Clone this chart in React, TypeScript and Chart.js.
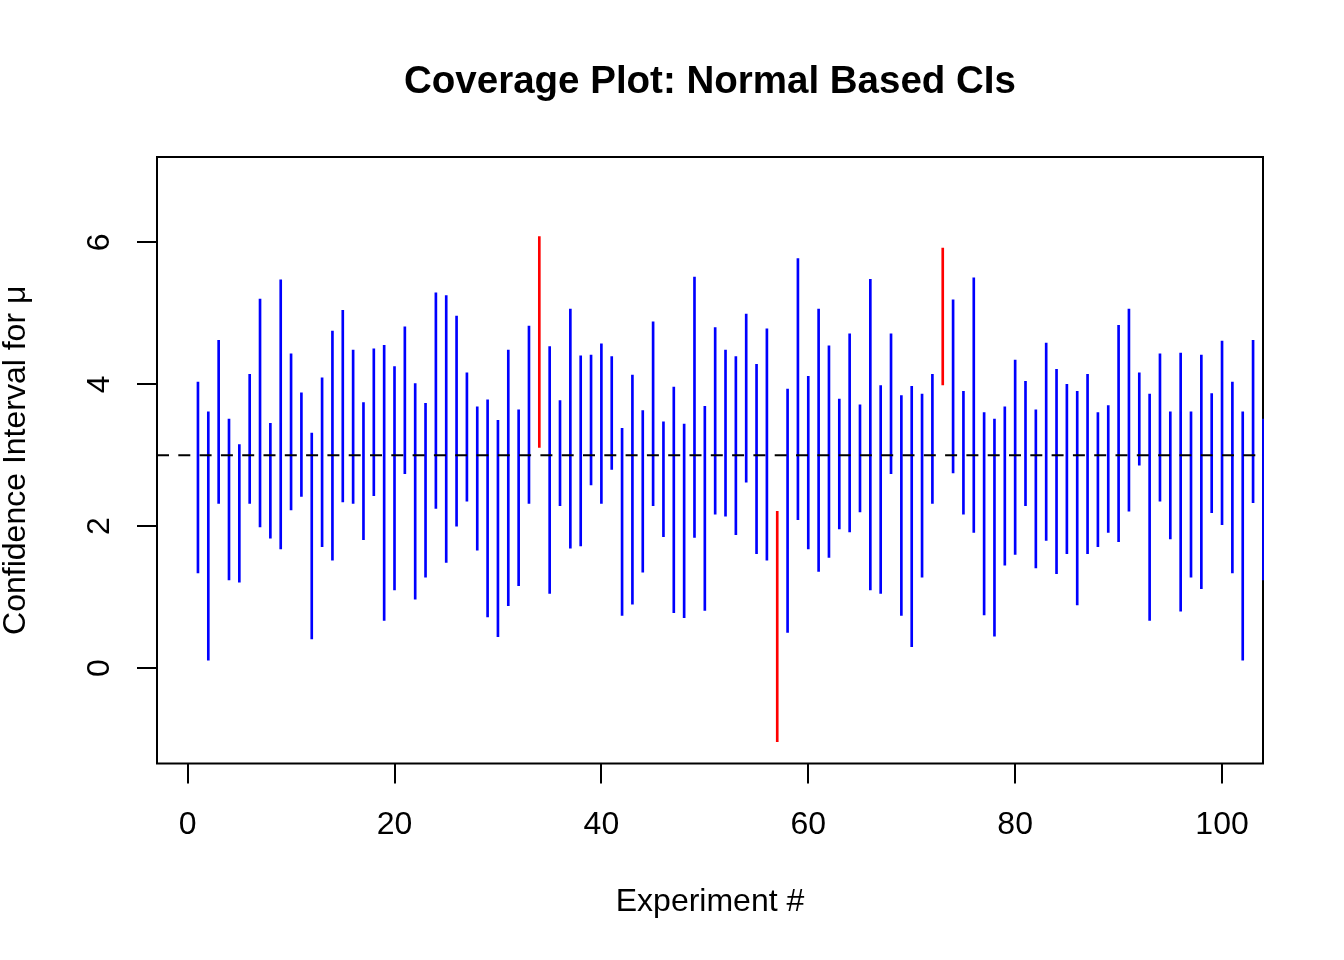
import { useEffect, useRef } from "react";
import { Chart, registerables } from "chart.js";

Chart.register(...registerables);

// Experiment numbers (x categories)
const experiments = [
  1, 2, 3, 4, 5, 6, 7, 8, 9, 10, 11, 12, 13, 14, 15, 16, 17, 18, 19, 20,
  21, 22, 23, 24, 25, 26, 27, 28, 29, 30, 31, 32, 33, 34, 35, 36, 37, 38, 39, 40,
  41, 42, 43, 44, 45, 46, 47, 48, 49, 50, 51, 52, 53, 54, 55, 56, 57, 58, 59, 60,
  61, 62, 63, 64, 65, 66, 67, 68, 69, 70, 71, 72, 73, 74, 75, 76, 77, 78, 79, 80,
  81, 82, 83, 84, 85, 86, 87, 88, 89, 90, 91, 92, 93, 94, 95, 96, 97, 98, 99, 100,
  101, 102, 103, 104,
];

// Lower confidence limits
const lowerBounds = [
  1.34, 0.11, 2.32, 1.24, 1.21, 2.32, 1.99, 1.83, 1.68, 2.23,
  2.42, 0.41, 1.71, 1.52, 2.34, 2.32, 1.81, 2.43, 0.67, 1.10,
  2.74, 0.97, 1.28, 2.25, 1.49, 2.00, 2.35, 1.66, 0.72, 0.44,
  0.88, 1.16, 2.32, 3.11, 1.05, 2.29, 1.69, 1.72, 2.58, 2.32,
  2.80, 0.74, 0.90, 1.35, 2.29, 1.85, 0.78, 0.71, 1.84, 0.81,
  2.17, 2.14, 1.88, 2.62, 1.61, 1.52, -1.04, 0.50, 2.09, 1.68,
  1.36, 1.56, 1.96, 1.92, 2.20, 1.10, 1.05, 2.74, 0.74, 0.30,
  1.28, 2.32, 3.99, 2.75, 2.17, 1.91, 0.75, 0.45, 1.45, 1.60,
  2.29, 1.41, 1.80, 1.33, 1.61, 0.89, 1.61, 1.71, 1.91, 1.78,
  2.21, 2.86, 0.67, 2.35, 1.82, 0.80, 1.28, 1.12, 2.19, 2.02,
  1.34, 0.11, 2.33, 1.24,
];

// Upper confidence limits
const upperBounds = [
  4.03, 3.61, 4.62, 3.51, 3.15, 4.14, 5.20, 3.45, 5.47, 4.43,
  3.88, 3.31, 4.09, 4.75, 5.04, 4.48, 3.74, 4.50, 4.55, 4.25,
  4.81, 4.01, 3.73, 5.29, 5.25, 4.96, 4.16, 3.68, 3.78, 3.49,
  4.48, 3.64, 4.82, 6.08, 4.53, 3.77, 5.06, 4.40, 4.41, 4.57,
  4.39, 3.38, 4.13, 3.63, 4.88, 3.47, 3.96, 3.44, 5.51, 3.69,
  4.80, 4.48, 4.39, 4.99, 4.28, 4.78, 2.21, 3.93, 5.77, 4.11,
  5.06, 4.54, 3.79, 4.71, 3.71, 5.48, 3.98, 4.71, 3.84, 3.97,
  3.86, 4.14, 5.92, 5.19, 3.90, 5.50, 3.60, 3.51, 3.68, 4.34,
  4.04, 3.64, 4.58, 4.21, 4.00, 3.90, 4.14, 3.60, 3.70, 4.83,
  5.06, 4.16, 3.86, 4.43, 3.61, 4.44, 3.61, 4.41, 3.87, 4.61,
  4.03, 3.61, 4.62, 3.51,
];

const trueMean = 3;
const xTickValues = [0, 20, 40, 60, 80, 100];
const yTickValues = [0, 2, 4, 6];
const xRange = [-2.96, 103.96];
const yRange = [-1.346, 7.203];

const FONT = '"Liberation Sans", Arial, Helvetica, sans-serif';

export default function App() {
  const ref = useRef<HTMLCanvasElement>(null);

  useEffect(() => {
    if (!ref.current) return;
    const covers = experiments.map(
      (_, i) => lowerBounds[i] <= trueMean && upperBounds[i] >= trueMean
    );

    const boxPlugin = {
      id: "plotBox",
      beforeDatasetsDraw(chart: any) {
        const { ctx, chartArea: a } = chart;
        ctx.save();
        ctx.strokeStyle = "#000";
        ctx.lineWidth = 2;
        ctx.strokeRect(a.left, a.top, a.right - a.left, a.bottom - a.top);
        ctx.restore();
      },
    };

    const chart = new Chart(ref.current, {
      type: "bar",
      data: {
        datasets: [
          {
            type: "line",
            data: [
              { x: xRange[0], y: trueMean },
              { x: xRange[1], y: trueMean },
            ],
            borderColor: "#000",
            borderWidth: 2,
            borderDash: [12, 9.3],
            pointRadius: 0,
            fill: false,
            tension: 0,
            order: 0,
          } as any,
          {
            type: "bar",
            data: experiments.map((e, i) => ({
              x: e,
              y: [lowerBounds[i], upperBounds[i]],
            })),
            backgroundColor: covers.map((c) => (c ? "#0000FF" : "#FF0000")),
            borderWidth: 0,
            borderSkipped: false,
            barThickness: 2,
            grouped: false,
            order: 1,
            clip: { left: 0, top: 0, right: 1, bottom: 0 },
          } as any,
        ],
      },
      options: {
        animation: false,
        responsive: true,
        maintainAspectRatio: false,
        events: [],
        layout: { padding: { left: 0, top: 0, right: 81, bottom: 0 } },
        plugins: {
          legend: { display: false },
          tooltip: { enabled: false },
          title: {
            display: true,
            text: "Coverage Plot: Normal Based CIs",
            color: "#000",
            fullSize: false,
            font: { family: FONT, size: 38.5, weight: "bold", lineHeight: 1 },
            padding: { top: 63, bottom: 55.5 },
          },
        },
        scales: {
          x: {
            type: "linear",
            min: xRange[0],
            max: xRange[1],
            offset: false,
            afterBuildTicks: (s: any) => {
              s.ticks = xTickValues.map((v) => ({ value: v }));
            },
            afterFit: (s: any) => {
              s.height = 960 - 763.5;
            },
            grid: {
              display: true,
              drawOnChartArea: false,
              drawTicks: true,
              tickLength: 20,
              color: "#000",
              lineWidth: 2,
              offset: false,
            },
            border: { display: false },
            ticks: {
              color: "#000",
              font: { family: FONT, size: 32 },
              padding: 22,
              minRotation: 0,
              maxRotation: 0,
              autoSkip: false,
            },
            title: {
              display: true,
              text: "Experiment #",
              color: "#000",
              font: { family: FONT, size: 32, lineHeight: 1 },
              padding: { top: 0, bottom: 42 },
            },
          },
          y: {
            type: "linear",
            min: yRange[0],
            max: yRange[1],
            afterBuildTicks: (s: any) => {
              s.ticks = yTickValues.map((v) => ({ value: v }));
            },
            afterFit: (s: any) => {
              s.width = 157;
            },
            grid: {
              display: true,
              drawOnChartArea: false,
              drawTicks: true,
              tickLength: 20,
              color: "#000",
              lineWidth: 2,
            },
            border: { display: false },
            ticks: {
              color: "#000",
              font: { family: FONT, size: 32 },
              padding: 28,
              minRotation: 90,
              maxRotation: 90,
              crossAlign: "center",
            },
            title: {
              display: true,
              text: "Confidence Interval for μ",
              color: "#000",
              font: { family: FONT, size: 32, lineHeight: 1 },
              padding: { top: 0, bottom: 0 },
            },
          },
        },
      } as any,
      plugins: [boxPlugin],
    });

    return () => chart.destroy();
  }, []);

  return (
    <div
      style={{
        position: "fixed",
        left: 0,
        top: 0,
        width: 1344,
        height: 960,
        background: "#fff",
      }}
    >
      <canvas ref={ref} />
    </div>
  );
}
